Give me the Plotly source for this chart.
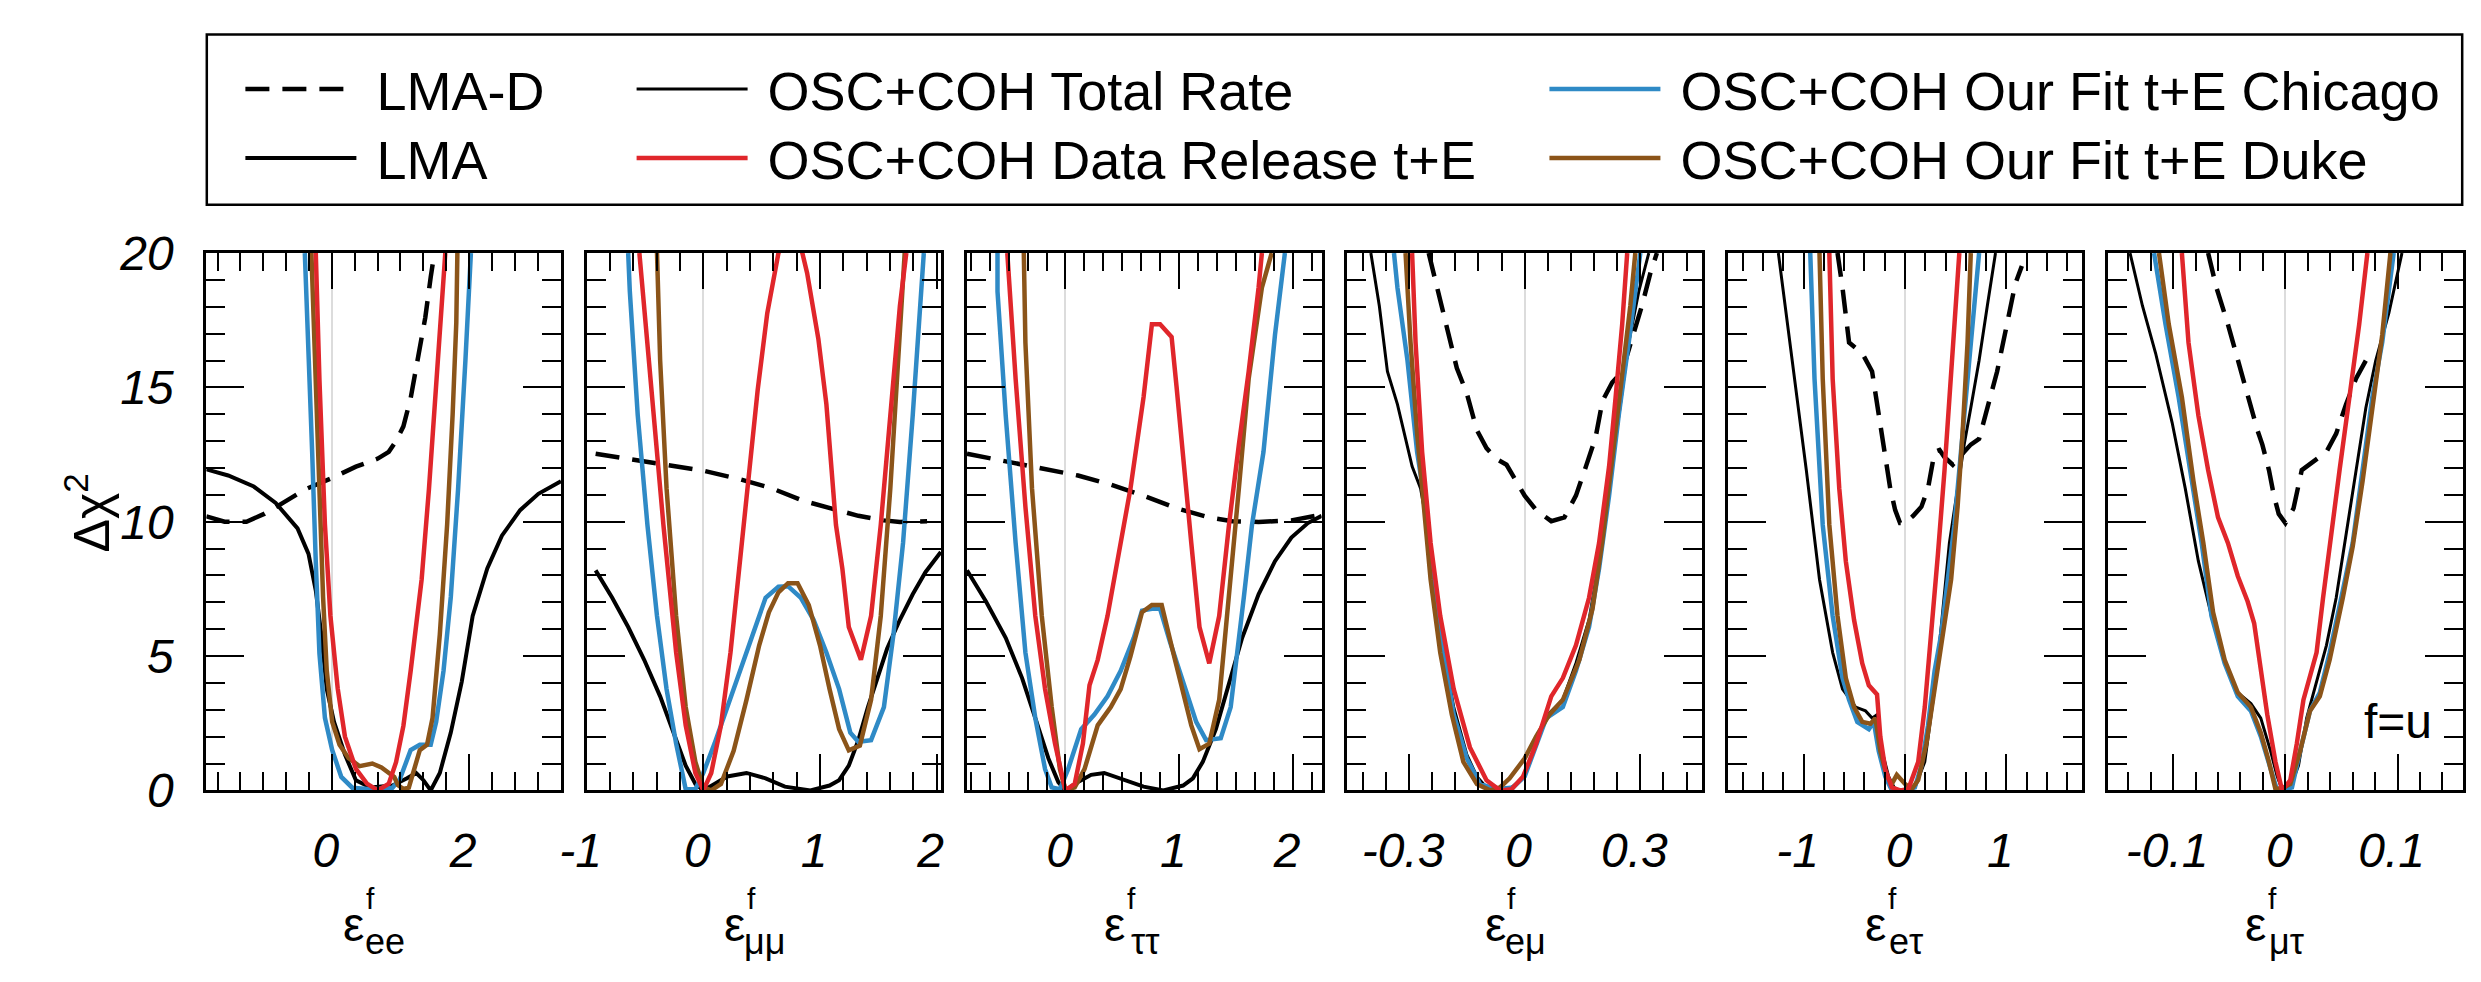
import plotly.graph_objects as go

W, H = 2481, 982

# ---------------- data ----------------
# panel 1 : eps_ee
EE_LMA_X = [-1.83, -1.511, -1.138, -0.819, -0.5, -0.34, -0.234, -0.154, -0.074, 0.032, 0.191, 0.351, 0.564, 0.883, 1.096, 1.229, 1.335, 1.441, 1.574, 1.734, 1.894, 2.053, 2.266, 2.479, 2.745, 3.011, 3.34]
EE_LMA_Y = [11.95, 11.72, 11.31, 10.7, 9.75, 8.8, 7.44, 5.81, 3.77, 2.55, 1.33, 0.38, 0.11, 0.18, 0.45, 0.65, 0.38, 0.0, 0.65, 2.15, 4.05, 6.49, 8.26, 9.48, 10.43, 11.04, 11.51]
EE_LMAD_X = [-1.83, -1.564, -1.245, -0.979, -0.713, -0.394, -0.021, 0.351, 0.670, 0.830, 0.936, 1.043, 1.149, 1.255, 1.362, 1.441, 1.495]
EE_LMAD_Y = [10.2, 10.0, 10.0, 10.3, 10.7, 11.2, 11.6, 12.05, 12.35, 12.6, 13.0, 13.55, 14.6, 16.0, 17.6, 19.1, 20.0]
EE_CHI_X = [-0.394, -0.340, -0.287, -0.234, -0.181, -0.101, 0.005, 0.138, 0.298, 0.564, 0.883, 0.989, 1.149, 1.282, 1.441, 1.521, 1.628, 1.734, 1.840, 1.947, 2.027]
EE_CHI_Y = [20.0, 16.7, 12.6, 8.5, 5.1, 2.7, 1.5, 0.5, 0.1, 0.04, 0.1, 0.4, 1.5, 1.7, 1.7, 2.55, 4.45, 7.2, 11.2, 16.0, 20.0]
EE_DUKE_X = [-0.298, -0.234, -0.181, -0.128, -0.074, 0.005, 0.112, 0.245, 0.404, 0.590, 0.723, 0.830, 0.910, 0.963, 1.043, 1.122, 1.202, 1.282, 1.388, 1.468, 1.574, 1.681, 1.761, 1.814, 1.830]
EE_DUKE_Y = [20.0, 15.3, 11.2, 7.2, 4.45, 2.55, 1.7, 1.2, 0.9, 1.0, 0.85, 0.65, 0.5, 0.2, 0.05, 0.1, 0.8, 1.5, 1.7, 2.7, 5.8, 9.9, 14.0, 17.4, 20.0]
EE_DR_X = [-0.234, -0.181, -0.101, -0.021, 0.085, 0.191, 0.351, 0.511, 0.670, 0.830, 0.936, 1.043, 1.149, 1.255, 1.309, 1.415, 1.521, 1.601, 1.654]
EE_DR_Y = [20.0, 15.3, 9.9, 6.5, 3.8, 2.0, 0.8, 0.25, 0.0, 0.25, 1.05, 2.4, 4.45, 6.5, 7.85, 11.2, 15.3, 18.0, 20.0]

# panel 2 : eps_mumu
MM_LMA_X = [-0.923, -0.781, -0.644, -0.507, -0.370, -0.260, -0.151, -0.068, 0.0, 0.096, 0.205, 0.370, 0.534, 0.699, 0.918, 1.082, 1.164, 1.247, 1.329, 1.411, 1.493, 1.575, 1.685, 1.795, 1.904, 2.036]
MM_LMA_Y = [8.19, 7.17, 6.08, 4.86, 3.5, 2.15, 0.92, 0.24, 0.0, 0.24, 0.52, 0.65, 0.45, 0.14, 0.0, 0.18, 0.38, 0.92, 1.87, 3.1, 4.18, 5.27, 6.35, 7.3, 8.12, 8.87]
MM_LMAD_X = [-0.923, -0.507, -0.233, 0.0, 0.315, 0.589, 0.863, 1.137, 1.329, 1.548, 1.685, 1.918]
MM_LMAD_Y = [12.53, 12.26, 12.06, 11.9, 11.58, 11.24, 10.77, 10.43, 10.22, 10.05, 9.99, 10.02]
MM_CHI_X = [-0.644, -0.630, -0.562, -0.479, -0.397, -0.315, -0.233, -0.151, -0.068, 0.0, 0.096, 0.205, 0.315, 0.425, 0.534, 0.644, 0.726, 0.836, 0.945, 1.055, 1.164, 1.260, 1.329, 1.438, 1.548, 1.630, 1.712, 1.795, 1.849, 1.890]
MM_CHI_Y = [20.0, 18.57, 13.96, 9.88, 6.49, 3.77, 1.74, 0.04, 0.04, 0.65, 1.74, 3.1, 4.45, 5.81, 7.17, 7.58, 7.6, 7.17, 6.35, 5.13, 3.77, 2.15, 1.81, 1.87, 3.1, 5.81, 9.21, 13.96, 17.35, 20.0]
MM_DUKE_X = [-0.397, -0.370, -0.315, -0.233, -0.151, -0.068, 0.0, 0.068, 0.151, 0.260, 0.370, 0.479, 0.562, 0.644, 0.726, 0.808, 0.904, 1.0, 1.082, 1.164, 1.247, 1.342, 1.438, 1.521, 1.603, 1.685, 1.726]
MM_DUKE_Y = [20.0, 16.0, 11.24, 6.49, 3.1, 1.06, 0.11, 0.0, 0.24, 1.47, 3.37, 5.4, 6.63, 7.37, 7.71, 7.71, 6.9, 5.4, 3.77, 2.28, 1.49, 1.67, 3.37, 6.49, 11.24, 16.67, 20.0]
MM_DR_X = [-0.548, -0.452, -0.342, -0.233, -0.151, -0.068, 0.0, 0.068, 0.151, 0.233, 0.315, 0.397, 0.466, 0.548, 0.644, 0.745, 0.849, 0.890, 0.986, 1.055, 1.137, 1.192, 1.247, 1.351, 1.438, 1.521, 1.603, 1.685, 1.740]
MM_DR_Y = [20.0, 15.32, 9.88, 5.13, 2.42, 0.65, 0.0, 0.65, 2.42, 5.13, 8.53, 11.92, 14.9, 17.76, 20.0, 21.0, 20.0, 19.25, 16.81, 14.37, 9.88, 8.25, 6.08, 4.86, 6.49, 9.88, 13.96, 18.03, 20.0]

# panel 3 : eps_tautau
TT_LMA_X = [-0.865, -0.698, -0.525, -0.381, -0.265, -0.150, -0.063, 0.0, 0.110, 0.225, 0.340, 0.485, 0.686, 0.860, 1.033, 1.119, 1.206, 1.321, 1.436, 1.552, 1.696, 1.840, 1.984, 2.129, 2.250]
TT_LMA_Y = [8.19, 7.03, 5.68, 4.18, 2.69, 1.19, 0.31, 0.0, 0.31, 0.58, 0.65, 0.45, 0.14, 0.0, 0.18, 0.45, 1.06, 2.28, 3.91, 5.68, 7.3, 8.53, 9.41, 9.95, 10.22]
TT_LMAD_X = [-0.865, -0.525, -0.179, 0.110, 0.398, 0.686, 0.975, 1.263, 1.465, 1.696, 1.984, 2.25]
TT_LMAD_Y = [12.53, 12.26, 11.99, 11.72, 11.38, 10.97, 10.5, 10.16, 10.02, 9.99, 10.05, 10.26]
TT_CHI_X = [-0.597, -0.597, -0.525, -0.438, -0.352, -0.265, -0.179, -0.121, -0.049, 0.023, 0.138, 0.254, 0.369, 0.485, 0.600, 0.672, 0.759, 0.831, 0.917, 1.033, 1.148, 1.235, 1.364, 1.451, 1.509, 1.566, 1.638, 1.739, 1.840, 1.927]
TT_CHI_Y = [20.0, 18.57, 13.96, 9.21, 5.13, 2.69, 0.79, 0.11, 0.04, 0.79, 2.28, 2.82, 3.5, 4.45, 5.68, 6.69, 6.76, 6.76, 5.54, 4.05, 2.55, 1.87, 1.94, 3.1, 5.0, 7.17, 9.88, 12.6, 16.95, 20.0]
TT_DUKE_X = [-0.366, -0.352, -0.294, -0.208, -0.121, -0.049, 0.0, 0.081, 0.167, 0.283, 0.398, 0.485, 0.571, 0.672, 0.759, 0.845, 0.946, 1.033, 1.105, 1.177, 1.263, 1.350, 1.436, 1.523, 1.609, 1.725, 1.811]
TT_DUKE_Y = [20.0, 16.67, 11.24, 6.49, 3.1, 0.79, 0.0, 0.11, 0.79, 2.42, 3.1, 3.77, 5.0, 6.63, 6.9, 6.9, 5.13, 3.64, 2.42, 1.53, 1.74, 3.37, 7.17, 11.24, 15.32, 18.71, 20.0]
TT_DR_X = [-0.511, -0.438, -0.352, -0.265, -0.179, -0.092, 0.0, 0.081, 0.153, 0.211, 0.283, 0.369, 0.456, 0.571, 0.686, 0.759, 0.831, 0.932, 0.975, 1.033, 1.105, 1.177, 1.263, 1.350, 1.436, 1.523, 1.609, 1.696, 1.725]
TT_DR_Y = [20.0, 15.32, 10.56, 6.49, 3.77, 1.74, 0.0, 0.24, 1.74, 3.91, 4.86, 6.49, 8.53, 11.24, 14.64, 17.35, 17.35, 16.88, 15.05, 12.6, 9.21, 6.08, 4.73, 6.49, 9.88, 12.87, 15.59, 18.71, 20.0]

# panel 4 : eps_emu
EM_TOT_X = [-0.399, -0.377, -0.356, -0.330, -0.292, -0.270, -0.253, -0.236, -0.210, -0.184, -0.150, -0.124, -0.099, -0.064, -0.034, 0.0, 0.030, 0.060, 0.099, 0.133, 0.167, 0.193, 0.219, 0.244, 0.270, 0.296, 0.322]
EM_TOT_Y = [20.0, 18.03, 15.59, 14.37, 12.06, 11.24, 9.88, 7.85, 5.13, 3.1, 1.33, 0.52, 0.11, 0.04, 0.11, 0.52, 1.74, 2.82, 3.37, 4.73, 6.35, 8.53, 11.24, 13.96, 16.67, 18.57, 20.0]
EM_LMAD_X = [-0.249, -0.227, -0.202, -0.176, -0.150, -0.124, -0.099, -0.073, -0.047, -0.021, 0.0, 0.030, 0.069, 0.103, 0.133, 0.159, 0.184, 0.202, 0.227, 0.253, 0.279, 0.304, 0.326, 0.343]
EM_LMAD_Y = [20.0, 18.71, 17.08, 15.72, 14.77, 13.41, 12.74, 12.33, 12.12, 11.51, 10.97, 10.43, 10.02, 10.16, 10.97, 12.06, 13.14, 14.5, 15.18, 15.59, 16.81, 18.03, 19.25, 20.0]
EM_CHI_X = [-0.339, -0.330, -0.304, -0.279, -0.257, -0.236, -0.210, -0.184, -0.150, -0.116, -0.073, -0.030, 0.0, 0.030, 0.056, 0.099, 0.133, 0.167, 0.193, 0.219, 0.244, 0.270, 0.300]
EM_CHI_Y = [20.0, 18.71, 16.0, 12.6, 10.56, 7.85, 5.13, 2.82, 1.19, 0.24, 0.04, 0.11, 0.52, 1.74, 2.69, 3.1, 4.45, 6.08, 8.25, 10.97, 13.96, 16.67, 20.0]
EM_DUKE_X = [-0.309, -0.296, -0.279, -0.262, -0.244, -0.219, -0.189, -0.159, -0.124, -0.090, -0.064, -0.039, 0.0, 0.030, 0.064, 0.099, 0.142, 0.176, 0.202, 0.227, 0.253, 0.274, 0.287]
EM_DUKE_Y = [20.0, 16.67, 13.28, 10.56, 7.85, 5.13, 2.82, 1.06, 0.24, 0.0, 0.11, 0.45, 1.19, 2.01, 2.82, 3.37, 4.86, 6.76, 9.34, 12.33, 15.32, 18.03, 20.0]
EM_DR_X = [-0.292, -0.283, -0.266, -0.244, -0.219, -0.184, -0.142, -0.099, -0.064, -0.034, -0.004, 0.030, 0.069, 0.099, 0.133, 0.167, 0.193, 0.219, 0.236, 0.253, 0.266]
EM_DR_Y = [20.0, 16.67, 12.6, 9.21, 6.49, 3.77, 1.6, 0.38, 0.0, 0.04, 0.52, 1.74, 3.5, 4.18, 5.4, 7.17, 9.21, 12.06, 14.64, 17.35, 20.0]

# panel 5 : eps_etau
ET_TOT_X = [-1.250, -1.136, -0.974, -0.844, -0.714, -0.617, -0.487, -0.390, -0.325, -0.276, -0.227, -0.162, -0.097, 0.0, 0.097, 0.195, 0.292, 0.357, 0.438, 0.519, 0.584, 0.649, 0.731, 0.812, 0.893]
ET_TOT_Y = [20.0, 16.67, 11.92, 7.85, 5.13, 3.77, 3.1, 2.96, 2.69, 2.82, 1.47, 0.52, 0.04, 0.0, 0.11, 1.06, 3.77, 6.08, 9.21, 11.24, 12.87, 14.23, 16.0, 18.03, 20.0]
ET_LMAD_X = [-0.666, -0.617, -0.552, -0.422, -0.325, -0.260, -0.195, -0.146, -0.097, -0.049, 0.0, 0.081, 0.162, 0.227, 0.292, 0.341, 0.390, 0.471, 0.584, 0.649, 0.731, 0.812, 0.909, 1.006, 1.088, 1.153]
ET_LMAD_Y = [20.0, 18.71, 16.67, 16.27, 15.59, 13.96, 12.33, 11.24, 10.43, 9.95, 9.95, 10.22, 10.56, 11.24, 12.6, 12.67, 12.4, 12.12, 12.6, 12.87, 13.08, 14.23, 15.59, 17.35, 18.85, 19.52]
ET_CHI_X = [-0.935, -0.893, -0.812, -0.714, -0.617, -0.552, -0.471, -0.357, -0.308, -0.260, -0.195, -0.130, 0.0, 0.097, 0.162, 0.227, 0.292, 0.357, 0.422, 0.487, 0.552, 0.617, 0.682, 0.731]
ET_CHI_Y = [20.0, 15.32, 9.88, 6.49, 4.18, 3.37, 2.55, 2.28, 2.55, 1.47, 0.52, 0.0, 0.0, 0.11, 0.92, 2.42, 4.45, 5.81, 7.85, 9.88, 12.6, 15.32, 18.03, 20.0]
ET_DUKE_X = [-0.844, -0.812, -0.747, -0.666, -0.584, -0.503, -0.422, -0.341, -0.292, -0.244, -0.179, -0.130, -0.081, 0.0, 0.065, 0.130, 0.211, 0.292, 0.373, 0.455, 0.519, 0.568, 0.617, 0.649]
ET_DUKE_Y = [20.0, 15.32, 9.88, 6.49, 4.18, 3.1, 2.55, 2.48, 2.69, 1.47, 0.52, 0.24, 0.58, 0.24, 0.04, 0.38, 1.74, 3.77, 5.54, 7.85, 10.56, 13.28, 16.67, 20.0]
ET_DR_X = [-0.747, -0.714, -0.649, -0.584, -0.503, -0.422, -0.357, -0.276, -0.244, -0.195, -0.130, -0.049, 0.032, 0.130, 0.195, 0.260, 0.325, 0.390, 0.455, 0.503, 0.536]
ET_DR_Y = [20.0, 15.32, 11.24, 8.53, 6.35, 4.73, 3.91, 3.57, 2.01, 0.79, 0.11, 0.0, 0.04, 1.06, 3.1, 5.81, 8.8, 11.92, 15.32, 18.03, 20.0]

# panel 6 : eps_mutau
MT_TOT_X = [-0.1384, -0.1273, -0.1156, -0.1009, -0.0892, -0.0775, -0.0658, -0.0541, -0.0424, -0.0307, -0.0219, -0.0132, -0.0073, -0.0029, 0.0044, 0.0117, 0.0190, 0.0278, 0.0366, 0.0453, 0.0541, 0.0629, 0.0717, 0.0805, 0.0922, 0.1039]
MT_TOT_Y = [20.0, 18.03, 16.27, 13.69, 11.24, 8.53, 6.49, 4.73, 3.64, 3.23, 2.69, 1.47, 0.52, 0.04, 0.11, 0.92, 2.69, 4.05, 5.4, 7.17, 9.48, 11.92, 14.23, 16.0, 17.76, 20.0]
MT_LMAD_X = [-0.0688, -0.0614, -0.0512, -0.0424, -0.0336, -0.0249, -0.0205, -0.0146, -0.0102, -0.0059, 0.0, 0.0073, 0.0146, 0.0249, 0.0366, 0.0453, 0.0541, 0.0629, 0.0702, 0.0769]
MT_LMAD_Y = [20.0, 18.71, 17.35, 16.0, 14.64, 13.41, 12.87, 11.92, 10.97, 10.29, 9.95, 10.5, 11.92, 12.26, 12.6, 13.28, 14.37, 15.32, 15.86, 16.4]
MT_CHI_X = [-0.117, -0.1068, -0.0951, -0.0834, -0.0746, -0.0658, -0.0541, -0.0424, -0.0307, -0.0219, -0.0132, -0.0073, 0.0, 0.0059, 0.0132, 0.0219, 0.0307, 0.0395, 0.0512, 0.060, 0.0688, 0.0775, 0.0863, 0.0965]
MT_CHI_Y = [20.0, 17.35, 14.64, 11.51, 9.21, 6.49, 4.73, 3.5, 2.96, 2.01, 0.79, 0.0, 0.04, 0.11, 1.47, 2.96, 3.64, 5.13, 7.44, 9.21, 11.92, 14.64, 16.67, 20.0]
MT_DUKE_X = [-0.1126, -0.1039, -0.0922, -0.0819, -0.0731, -0.0644, -0.0541, -0.0424, -0.0307, -0.0219, -0.0146, -0.0088, -0.0015, 0.0044, 0.0132, 0.0219, 0.0307, 0.0395, 0.0512, 0.060, 0.0688, 0.0775, 0.0863, 0.0936]
MT_DUKE_Y = [20.0, 17.35, 14.64, 11.51, 9.21, 6.63, 4.86, 3.64, 3.1, 2.15, 1.06, 0.04, 0.11, 0.24, 1.47, 2.96, 3.5, 4.86, 7.17, 9.07, 11.51, 14.23, 16.95, 20.0]
MT_DR_X = [-0.0922, -0.0863, -0.0775, -0.0688, -0.060, -0.0512, -0.0424, -0.0336, -0.0278, -0.0219, -0.0161, -0.0088, -0.0029, 0.0044, 0.0102, 0.0161, 0.0219, 0.0278, 0.0336, 0.0395, 0.0483, 0.0571, 0.0658, 0.0731]
MT_DR_Y = [20.0, 16.67, 13.96, 11.92, 10.16, 9.21, 7.98, 7.03, 6.22, 4.45, 2.82, 1.06, 0.0, 0.38, 1.74, 3.37, 4.18, 5.13, 7.17, 9.21, 11.92, 14.64, 17.35, 20.0]

# axis tick labels
Y_TICKS = [0, 5, 10, 15, 20]
X_TICKS = [[0, 2], [-1, 0, 1, 2], [0, 1, 2], [-0.3, 0, 0.3], [-1, 0, 1], [-0.1, 0, 0.1]]
X_RANGES = [[-1.83, 3.34], [-1.0, 2.04], [-0.865, 2.25], [-0.46, 0.46], [-1.75, 1.75], [-0.158, 0.158]]
X_MINOR = [1 / 3, 0.2, 1 / 6, 0.06, 0.2, 0.02]
SUBS = ["ee", "μμ", "ττ", "eμ", "eτ", "μτ"]

PANELS = [
    dict(solid=("LMA", EE_LMA_X, EE_LMA_Y), lmad=(EE_LMAD_X, EE_LMAD_Y), chi=(EE_CHI_X, EE_CHI_Y), duke=(EE_DUKE_X, EE_DUKE_Y), dr=(EE_DR_X, EE_DR_Y)),
    dict(solid=("LMA", MM_LMA_X, MM_LMA_Y), lmad=(MM_LMAD_X, MM_LMAD_Y), chi=(MM_CHI_X, MM_CHI_Y), duke=(MM_DUKE_X, MM_DUKE_Y), dr=(MM_DR_X, MM_DR_Y)),
    dict(solid=("LMA", TT_LMA_X, TT_LMA_Y), lmad=(TT_LMAD_X, TT_LMAD_Y), chi=(TT_CHI_X, TT_CHI_Y), duke=(TT_DUKE_X, TT_DUKE_Y), dr=(TT_DR_X, TT_DR_Y)),
    dict(solid=("OSC+COH Total Rate", EM_TOT_X, EM_TOT_Y), lmad=(EM_LMAD_X, EM_LMAD_Y), chi=(EM_CHI_X, EM_CHI_Y), duke=(EM_DUKE_X, EM_DUKE_Y), dr=(EM_DR_X, EM_DR_Y)),
    dict(solid=("OSC+COH Total Rate", ET_TOT_X, ET_TOT_Y), lmad=(ET_LMAD_X, ET_LMAD_Y), chi=(ET_CHI_X, ET_CHI_Y), duke=(ET_DUKE_X, ET_DUKE_Y), dr=(ET_DR_X, ET_DR_Y)),
    dict(solid=("OSC+COH Total Rate", MT_TOT_X, MT_TOT_Y), lmad=(MT_LMAD_X, MT_LMAD_Y), chi=(MT_CHI_X, MT_CHI_Y), duke=(MT_DUKE_X, MT_DUKE_Y), dr=(MT_DR_X, MT_DR_Y)),
]

# ---------------- styles / layout ----------------
BLUE = "#2f8ac6"
RED = "#e0262b"
BROWN = "#8b5419"
FONT = "Liberation Sans"
NBSP = "\u00a0"

LEG_ID = {"LMA-D": "legend", "LMA": "legend2", "OSC+COH Total Rate": "legend3",
          "OSC+COH Data Release t+E": "legend4", "OSC+COH Our Fit t+E Chicago": "legend5",
          "OSC+COH Our Fit t+E Duke": "legend6"}

PANEL_LEFT = 181.5
PANEL_PITCH = 385.0
PANEL_W = 359.0
TOP_PX, BOT_PX = 240.0, 808.0

fig = go.Figure()
shown = set()


def add(i, name, xs, ys, color, width, dash="solid"):
    ax = "" if i == 0 else str(i + 1)
    show = name not in shown
    shown.add(name)
    fig.add_trace(go.Scatter(
        x=xs, y=ys, mode="lines", name=NBSP + name, legend=LEG_ID[name], showlegend=show,
        line=dict(color=color, width=width, dash=dash),
        xaxis="x" + ax, yaxis="y" + ax, hoverinfo="skip"))


for i, p in enumerate(PANELS):
    add(i, "LMA-D", p["lmad"][0], p["lmad"][1], "black", 4.5, "24px,13px")
    nm, sx, sy = p["solid"]
    add(i, nm, sx, sy, "black", 4 if nm == "LMA" else 3)
    add(i, "OSC+COH Our Fit t+E Chicago", p["chi"][0], p["chi"][1], BLUE, 4.5)
    add(i, "OSC+COH Our Fit t+E Duke", p["duke"][0], p["duke"][1], BROWN, 4.5)
    add(i, "OSC+COH Data Release t+E", p["dr"][0], p["dr"][1], RED, 4.5)

layout = dict(
    width=W, height=H, margin=dict(l=0, r=0, t=0, b=0),
    paper_bgcolor="white", plot_bgcolor="white",
    font=dict(family=FONT, color="black"),
    showlegend=True,
)

ydom = [1 - BOT_PX / H, 1 - TOP_PX / H]
annotations = []
for i in range(6):
    ax = "" if i == 0 else str(i + 1)
    l = PANEL_LEFT + i * PANEL_PITCH
    xdom = [l / W, (l + PANEL_W) / W]
    layout["xaxis" + ax] = dict(
        domain=xdom, range=X_RANGES[i], anchor="y" + ax,
        showline=True, linecolor="black", linewidth=3, mirror="allticks",
        ticks="inside", ticklen=36, tickwidth=2, tickcolor="black",
        tickvals=X_TICKS[i], ticktext=[("%g" % v) for v in X_TICKS[i]],
        tickfont=dict(family=FONT, size=48, style="italic", color="black"),
        ticklabelstandoff=16, ticklabelshift=-6,
        minor=dict(ticks="inside", ticklen=18, tickwidth=2, tickcolor="black",
                   dtick=X_MINOR[i], tick0=0, showgrid=False),
        showgrid=False, zeroline=True, zerolinecolor="#dcdcdc", zerolinewidth=2,
        fixedrange=True,
    )
    layout["yaxis" + ax] = dict(
        domain=ydom, range=[0, 20], anchor="x" + ax,
        showline=True, linecolor="black", linewidth=3, mirror="allticks",
        ticks="inside", ticklen=38, tickwidth=2, tickcolor="black",
        tickvals=Y_TICKS, ticktext=[str(v) for v in Y_TICKS],
        showticklabels=(i == 0),
        tickfont=dict(family=FONT, size=48, style="italic", color="black"),
        ticklabelstandoff=20,
        minor=dict(ticks="inside", ticklen=19, tickwidth=2, tickcolor="black",
                   dtick=1, tick0=0, showgrid=False),
        showgrid=False, zeroline=False, fixedrange=True,
    )
    cx = l + PANEL_W / 2
    annotations.append(dict(xref="paper", yref="paper", x=(cx - 30) / W, y=1 - 950 / H,
                            text="ε", showarrow=False, xanchor="center", yanchor="middle",
                            font=dict(family=FONT, size=48, color="black")))
    annotations.append(dict(xref="paper", yref="paper", x=(cx - 13) / W, y=1 - 922 / H,
                            text="f", showarrow=False, xanchor="center", yanchor="middle",
                            font=dict(family=FONT, size=30, color="black")))
    annotations.append(dict(xref="paper", yref="paper", x=(cx + 1) / W, y=1 - 968 / H,
                            text=SUBS[i], showarrow=False, xanchor="center", yanchor="middle",
                            font=dict(family=FONT, size=36, color="black")))

annotations.append(dict(xref="paper", yref="paper", x=62 / W, y=1 - 515 / H,
                        text="Δχ<sup>2</sup>", showarrow=False, textangle=-90,
                        xanchor="center", yanchor="middle",
                        font=dict(family=FONT, size=50, color="black")))
annotations.append(dict(xref="x6", yref="paper", x=0.100, y=1 - 735 / H,
                        text="f=u", showarrow=False, xanchor="center", yanchor="middle",
                        font=dict(family=FONT, size=48, color="black")))
layout["annotations"] = annotations

# legend box
layout["shapes"] = [dict(type="rect", xref="paper", yref="paper",
                         x0=182 / W, x1=2465 / W, y0=1 - 189 / H, y1=1 - 9 / H,
                         line=dict(color="black", width=2.5), fillcolor="rgba(0,0,0,0)")]

ROW1, ROW2 = 1 - 67 / H, 1 - 140 / H
LEG_POS = {"legend": (216, ROW1), "legend2": (216, ROW2), "legend3": (612, ROW1),
           "legend4": (612, ROW2), "legend5": (1536, ROW1), "legend6": (1536, ROW2)}
for k, (x, y) in LEG_POS.items():
    layout[k] = dict(x=x / W, y=y, xanchor="left", yanchor="middle",
                     bgcolor="rgba(0,0,0,0)", borderwidth=0, itemwidth=111,
                     font=dict(family=FONT, size=54, color="black"))

fig.update_layout(**layout)
fig.write_html("out.html")
